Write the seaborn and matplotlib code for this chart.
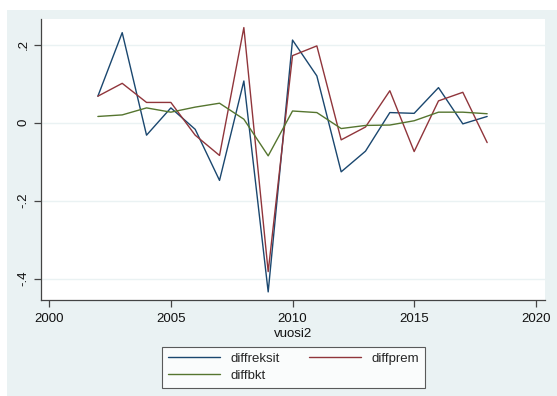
import numpy as np
import pandas as pd
import matplotlib
matplotlib.use("Agg")
import matplotlib.pyplot as plt
from matplotlib.patches import Rectangle
import seaborn as sns

# Yearly differences by series
years = [2002, 2003, 2004, 2005, 2006, 2007, 2008, 2009, 2010,
         2011, 2012, 2013, 2014, 2015, 2016, 2017, 2018]
diffreksit = [0.068, 0.231, -0.032, 0.038, -0.017, -0.148, 0.107, -0.434, 0.212,
              0.120, -0.126, -0.073, 0.026, 0.024, 0.090, -0.003, 0.016]
diffprem = [0.068, 0.101, 0.052, 0.052, -0.032, -0.084, 0.244, -0.382, 0.172,
            0.197, -0.044, -0.011, 0.082, -0.074, 0.056, 0.078, -0.051]
diffbkt = [0.016, 0.020, 0.038, 0.027, 0.040, 0.050, 0.009, -0.085, 0.030,
           0.026, -0.015, -0.007, -0.006, 0.005, 0.027, 0.027, 0.023]

series_names = ["diffreksit", "diffprem", "diffbkt"]
colors = ["#1a476f", "#90353b", "#55752f"]
x_ticks = [2000, 2005, 2010, 2015, 2020]
y_ticks = [-0.4, -0.2, 0.0, 0.2]
y_tick_labels = ["-.4", "-.2", "0", ".2"]

df = pd.DataFrame({"vuosi2": years, "diffreksit": diffreksit,
                   "diffprem": diffprem, "diffbkt": diffbkt})
long = df.melt(id_vars="vuosi2", value_vars=series_names,
               var_name="series", value_name="value")

sns.set_theme(style="white")
plt.rcParams["font.family"] = ["Liberation Sans", "DejaVu Sans"]

W, H = 557, 396
fig = plt.figure(figsize=(W / 100, H / 100), dpi=100, facecolor="white")

# graph region background
bg = "#eaf2f3"
fig.patches.append(Rectangle((7 / W, 0), 1 - 7 / W, (H - 10) / H,
                             transform=fig.transFigure, facecolor=bg,
                             edgecolor="none", zorder=-10))

left, right, top, bottom = 40.7, 545.3, 19.0, 299.7
ax = fig.add_axes([left / W, 1 - bottom / H, (right - left) / W, (bottom - top) / H])
ax.set_zorder(1)
ax.set_facecolor("white")

sns.lineplot(data=long, x="vuosi2", y="value", hue="series",
             hue_order=series_names, palette=colors, linewidth=1.0,
             ax=ax, legend=False)

ax.set_xlim(1999.65, 2020.39)
ax.set_ylim(-0.454, 0.266)
ax.set_xticks(x_ticks)
ax.set_xticklabels([str(t) for t in x_ticks], fontsize=9.5, color="#111111")
ax.set_yticks(y_ticks)
ax.set_yticklabels(y_tick_labels, rotation=90, va="center", fontsize=9.5,
                   color="#111111")
ax.tick_params(axis="x", length=5, width=0.9, color="#444444", pad=4.5,
               bottom=True)
ax.tick_params(axis="y", length=5, width=0.9, color="#444444", pad=3,
               left=True)

ax.grid(axis="y", color=bg, linewidth=1.0)
ax.grid(axis="x", visible=False)
for side in ["top", "right"]:
    ax.spines[side].set_visible(False)
for side in ["left", "bottom"]:
    ax.spines[side].set_color("#444444")
    ax.spines[side].set_linewidth(0.9)

ax.set_xlabel("vuosi2", fontsize=9.5, labelpad=2, color="#111111")
ax.set_ylabel("")

# legend filled row by row: diffreksit, diffprem / diffbkt
handles = {n: plt.Line2D([], [], color=c, linewidth=1.0)
           for n, c in zip(series_names, colors)}
order = ["diffreksit", "diffbkt", "diffprem"]
leg = fig.legend([handles[n] for n in order], order, loc="upper left",
                 bbox_to_anchor=(161.7 / W, 1 - 346.7 / H), ncol=2,
                 frameon=True, fancybox=False, fontsize=9.5,
                 handlelength=4.0, handletextpad=0.75, columnspacing=2.2,
                 borderpad=0.45, labelspacing=0.35, borderaxespad=0)
leg.get_frame().set_edgecolor("#333333")
leg.get_frame().set_linewidth(0.8)
leg.get_frame().set_facecolor("white")
leg.set_zorder(2)

fig.savefig("out.png", dpi=100, facecolor="white")
